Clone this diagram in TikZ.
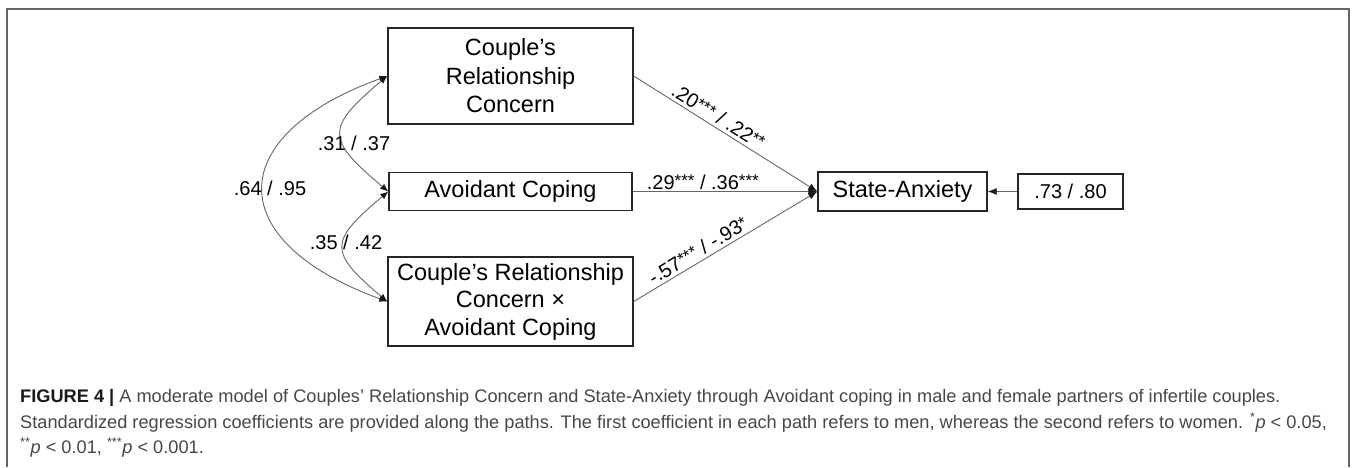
\documentclass[tikz,border=0pt]{standalone}
\usepackage{fontspec}
\setmainfont{Liberation Sans}
\usepackage{xcolor}
\usepackage{tikz}
\usetikzlibrary{positioning, calc, arrows.meta}
\tikzstyle{box} = [draw=black!85, line width=1.4pt, inner sep=0pt, align=center, font=\fontsize{23.5}{28.5}\selectfont]
\tikzstyle{lbl} = [inner sep=1.5pt, font=\fontsize{20}{24}\selectfont]
\tikzstyle{arrow} = [draw=black!60, line width=0.9pt, -{Latex[length=9pt,width=7pt,color=black!90]}]
\tikzstyle{corr} = [draw=black!60, line width=0.9pt, {Latex[length=8pt,width=6.5pt,color=black!90]}-{Latex[length=8pt,width=6.5pt,color=black!90]}]
\tikzstyle{captext} = [anchor=base west, inner sep=0pt, text=black!72, font=\fontsize{18.2}{22}\selectfont]
\newcommand{\stars}[1]{{\fontsize{17}{17}\selectfont\raisebox{2.5pt}{#1}}}

\begin{document}
\begin{tikzpicture}[x=1pt, y=1pt]
	\useasboundingbox (0,0) rectangle (1357,467);
	
	\coordinate (row1) at (0,391);
	\coordinate (row2) at (0,275.5);
	\coordinate (row3) at (0,165.5);
	
	\coordinate (pred) at (510.5,0);
	\coordinate (outc) at (902.5,0);
	\coordinate (res) at (1070.5,0);
	
	\draw[black!60, line width=1.3pt] (7,0) |- (1349,458) -- (1349,0);
	
	\node[box, minimum width=245, minimum height=96] (crc) at ($ (row1) + (pred) $) {Couple’s\\Relationship\\Concern};
	\node[box, minimum width=243, minimum height=38] (ac) at ($ (row2) + (pred) $) {Avoidant Coping};
	\node[box, minimum width=245, minimum height=89, font=\fontsize{23.5}{27.5}\selectfont] (int) at ($ (row3) + (pred) $) {Couple’s Relationship\\Concern ×\\Avoidant Coping};
	
	\node[box, minimum width=169, minimum height=39] (sa) at ($ (row2) + (outc) $) {State-Anxiety};
	\node[box, minimum width=105, minimum height=35, font=\fontsize{20}{24}\selectfont] (err) at ($ (row2) + (res) $) {.73 / .80};
	
	\draw[corr] (crc.west) to[out=200, in=160, looseness=2.0] (int.west);
	\draw[corr] (crc.west) to[out=220, in=140, looseness=1.8] (ac.west);
	\draw[corr] (ac.west) to[out=220, in=140, looseness=1.8] (int.west);
	
	\node[lbl] (r13) at (270,279) {.64 / .95};
	\node[lbl] (r12) at (354,324) {.31 / .37};
	\node[lbl] (r23) at (346,225) {.35 / .42};
	
	\draw[arrow] (crc.east) -- node[lbl, pos=0.43, above, sloped, inner sep=3pt] (b1) {.20\stars{***} / .22\stars{**}} (sa.west);
	\draw[arrow] (ac.east) -- node[lbl, pos=0.38, above] (b2) {.29\stars{***} / .36\stars{***}} (sa.west);
	\draw[arrow] (int.east) -- node[lbl, pos=0.38, above, sloped, inner sep=3pt] (b3) {-.57\stars{***} / -.93\stars{*}} (sa.west);
	
	\draw[arrow] (err.west) -- (sa.east);
	
	\node[captext] (cap1) at (20,65) {{\color{black!90}\textbf{FIGURE 4 |}} A moderate model of Couples’ Relationship Concern and State-Anxiety through Avoidant coping in male and female partners of infertile couples.};
	\node[captext] (cap2) at (20,39) {Standardized regression coefficients are provided along the paths. The first coefficient in each path refers to men, whereas the second refers to women. \textsuperscript{*}\textit{p} < 0.05,};
	\node[captext] (cap3) at (20,14) {\textsuperscript{**}\textit{p} < 0.01, \textsuperscript{***}\textit{p} < 0.001.};
	
\end{tikzpicture}
\end{document}
